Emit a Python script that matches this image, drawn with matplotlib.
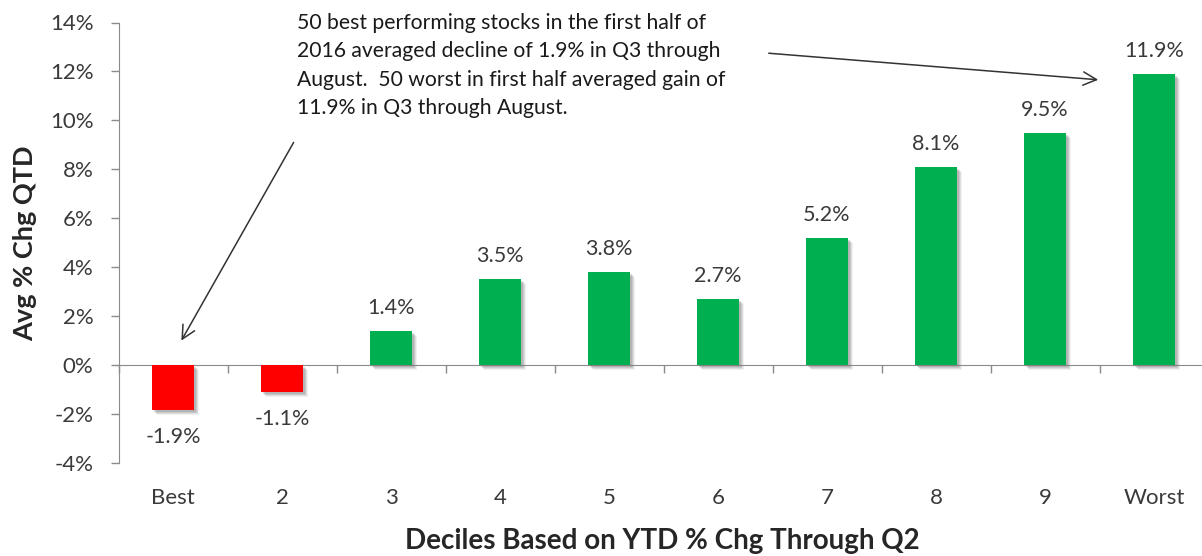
import matplotlib
matplotlib.use("Agg")
import matplotlib.pyplot as plt
import matplotlib.patheffects as pe
from matplotlib.ticker import FixedLocator, FuncFormatter

categories = ["Best", "2", "3", "4", "5", "6", "7", "8", "9", "Worst"]
values = [-1.85, -1.1, 1.4, 3.5, 3.8, 2.7, 5.2, 8.1, 9.5, 11.9]
labels = ["-1.9%", "-1.1%", "1.4%", "3.5%", "3.8%", "2.7%", "5.2%", "8.1%", "9.5%", "11.9%"]
yticks = [-4, -2, 0, 2, 4, 6, 8, 10, 12, 14]
note = ("50 best performing stocks in the first half of\n"
        "2016 averaged decline of 1.9% in Q3 through\n"
        "August.  50 worst in first half averaged gain of\n"
        "11.9% in Q3 through August.")

plt.rcParams['font.family'] = ['Lato', 'DejaVu Sans']
txt = '#3a3a3a'
axc = '#8a8a8a'
PX = 0.72  # points per pixel at 100 dpi

fig = plt.figure(figsize=(12.02, 5.56), dpi=100)
W, H = 1202, 556
L, R, T, B = 118.5, 1208.5, 22.5, 463
ax = fig.add_axes([L / W, 1 - B / H, (R - L) / W, (B - T) / H])

x = list(range(len(categories)))
colors = ['#FF0000' if v < 0 else '#00B050' for v in values]
shadow = [pe.SimplePatchShadow(offset=(k * PX, -k * PX), shadow_rgbFace='#7f7f7f', alpha=a)
          for k, a in [(5, 0.10), (4, 0.16), (3, 0.22), (2, 0.28)]]
ax.bar(x, values, width=0.39, color=colors, zorder=3,
       path_effects=shadow + [pe.Normal()])

ax.set_xlim(-0.5, 9.5)
ax.set_ylim(-4, 14)
ax.yaxis.set_major_locator(FixedLocator(yticks))
ax.yaxis.set_major_formatter(FuncFormatter(lambda v, p: f"{v:.0f}%"))
ax.tick_params(axis='y', direction='out', length=8 * PX, width=1, color=axc,
               labelsize=16, labelcolor=txt, pad=17 * PX)

for s in ['top', 'right']:
    ax.spines[s].set_visible(False)
ax.spines['left'].set_color(axc)
ax.spines['bottom'].set_color(axc)
ax.spines['bottom'].set_position(('data', 0))
ax.set_xticks([])
ax.set_xticks([i + 0.5 for i in range(-1, 10)], minor=True)
ax.tick_params(axis='x', which='minor', direction='out', length=8 * PX, width=1, color=axc,
               labelbottom=False)

for i, c in enumerate(categories):
    ax.text(i, -(498 - B) / (B - T), c, transform=ax.get_xaxis_transform(), ha='center',
            va='center', fontsize=16, color=txt)

for i, (v, lab) in enumerate(zip(values, labels)):
    if v >= 0:
        ax.annotate(lab, (i, v), xytext=(0, 23 * PX), textcoords='offset points',
                    ha='center', va='center', fontsize=15.5, color=txt)
    else:
        ax.annotate(lab, (i, v), xytext=(0, -26.5 * PX), textcoords='offset points',
                    ha='center', va='center', fontsize=15.5, color=txt)

fig.text(25 / W, 1 - 243 / H, "Avg % Chg QTD", rotation=90, ha='center', va='center',
         fontsize=19.5, fontweight='bold', color='#262626')
fig.text(662 / W, 1 - 541 / H, "Deciles Based on YTD % Chg Through Q2", ha='center',
         va='center', fontsize=20, fontweight='bold', color='#262626')

fig.text(297 / W, 1 - 13 / H, note, ha='left', va='top', fontsize=15.2, color='#1a1a1a',
         linespacing=1.52)

arrowprops = dict(arrowstyle='->', color='#333333', lw=1.1, mutation_scale=24)
ax.annotate('', xy=(180 / W, 1 - 343 / H), xytext=(295 / W, 1 - 140 / H),
            xycoords='figure fraction', textcoords='figure fraction', arrowprops=arrowprops)
ax.annotate('', xy=(1101 / W, 1 - 80 / H), xytext=(766 / W, 1 - 53 / H),
            xycoords='figure fraction', textcoords='figure fraction', arrowprops=arrowprops)

fig.savefig("out.png", dpi=100)
